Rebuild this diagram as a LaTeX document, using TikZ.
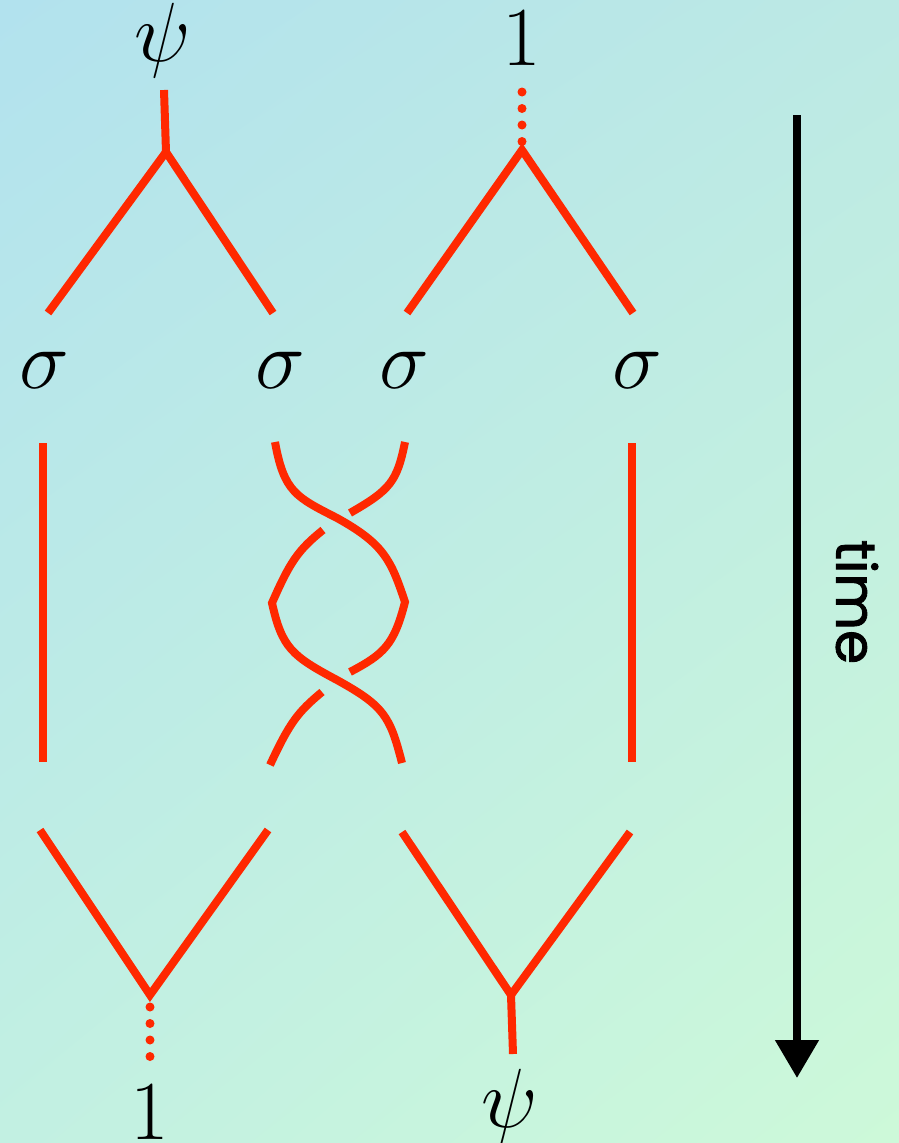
\RequirePackage{fix-cm}
\documentclass[tikz,border=0pt]{standalone}
\usepackage{fontspec}
\newfontfamily\timefont[FakeBold=1.6]{Poppins}
\usetikzlibrary{arrows.meta,shadings}
\definecolor{strand}{RGB}{255,40,0}
\definecolor{bgTL}{RGB}{178,226,238}
\definecolor{bgTR}{RGB}{188,233,228}
\definecolor{bgBL}{RGB}{194,240,226}
\definecolor{bgBR}{RGB}{205,249,217}
\tikzset{
  worldline/.style={draw=strand, line width=8pt},
  vacuum/.style={draw=strand, line width=9pt, line cap=round, dash pattern=on 0pt off 16.5pt},
  charge/.style={inner sep=0pt, font=\fontsize{84}{100}\selectfont},
  timearrow/.style={draw=black, line width=8pt, -{Triangle[length=38pt,width=42pt]}},
}
\begin{document}
\begin{tikzpicture}[x=1pt,y=-1pt]
\shade[upper left=bgTL, upper right=bgTR, lower left=bgBL, lower right=bgBR] (0,0) rectangle (899,1143);
\useasboundingbox (0,0) rectangle (899,1143);

% labels
\node[charge] (psiT) at (163,40) {$\psi$};
\node[charge] (oneT) at (522,38) {$1$};
\node[charge] (s1) at (44,370) {$\sigma$};
\node[charge] (s2) at (280,370) {$\sigma$};
\node[charge] (s3) at (404,370) {$\sigma$};
\node[charge] (s4) at (637,370) {$\sigma$};
\node[charge] (oneB) at (150,1112) {$1$};
\node[charge] (psiB) at (510,1106) {$\psi$};

% top left fusion (psi)
\coordinate (tlTop) at (164,90);
\coordinate (tlV) at (166,152);
\coordinate (tlL) at (48,313);
\coordinate (tlR) at (273,313);
\draw[worldline] (tlTop) -- (tlV);
\draw[worldline] (tlL) -- (tlV) -- (tlR);

% top right fusion (1)
\coordinate (trTop) at (522,92);
\coordinate (trV) at (522,150);
\coordinate (trL) at (407,313);
\coordinate (trR) at (633,313);
\draw[vacuum] (trTop) -- (trV);
\draw[worldline] (trL) -- (trV) -- (trR);

% straight strands
\coordinate (a1) at (43,443);
\coordinate (a2) at (43,762);
\coordinate (d1) at (632,443);
\coordinate (d2) at (632,762);
\draw[worldline] (a1) -- (a2);
\draw[worldline] (d1) -- (d2);

% braid
\coordinate (b1) at (275,442);
\coordinate (c1) at (405,442);
\coordinate (x1) at (337,518);
\coordinate (ra) at (405,602);
\coordinate (g1) at (350,672);
\coordinate (h1) at (322,692);
\coordinate (b2) at (270,765);
\coordinate (g2) at (350,513);
\coordinate (h2) at (323,530);
\coordinate (la) at (272,603);
\coordinate (x2) at (337,680);
\coordinate (c2) at (402,763);
\draw[worldline] (b1) .. controls (284,492) and (296,497) .. (x1)
  .. controls (384,544) and (391,560) .. (ra)
  .. controls (394,645) and (384,654) .. (g1);
\draw[worldline] (h1) .. controls (298,712) and (290,722) .. (b2);
\draw[worldline] (c1) .. controls (397,482) and (390,490) .. (g2);
\draw[worldline] (h2) .. controls (298,550) and (290,562) .. (la)
  .. controls (282,648) and (292,656) .. (x2)
  .. controls (384,706) and (390,716) .. (c2);

% bottom left fusion (1)
\coordinate (blL) at (40,830);
\coordinate (blR) at (268,830);
\coordinate (blV) at (150,995);
\coordinate (blBot) at (150,1058);
\draw[worldline] (blL) -- (blV) -- (blR);
\draw[vacuum] (150,1007) -- (blBot);

% bottom right fusion (psi)
\coordinate (brL) at (402,832);
\coordinate (brR) at (630,832);
\coordinate (brV) at (511,995);
\coordinate (brBot) at (513,1054);
\draw[worldline] (brL) -- (brV) -- (brR);
\draw[worldline] (brV) -- (brBot);

% time arrow
\coordinate (tStart) at (797,115);
\coordinate (tEnd) at (797,1078);
\draw[timearrow] (tStart) -- (tEnd);
\node[rotate=-90, font=\timefont\fontsize{55}{66}\selectfont, inner sep=0pt] (timeLbl) at (857,602) {time};
\end{tikzpicture}
\end{document}
